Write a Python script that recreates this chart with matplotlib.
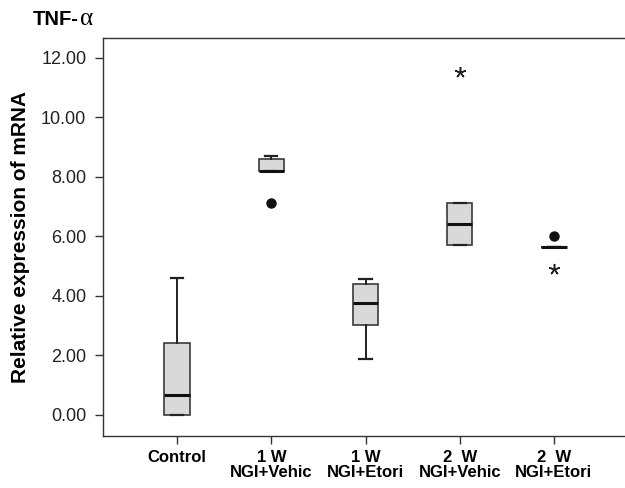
import numpy as np
import matplotlib.pyplot as plt

plt.rcParams['font.family'] = ['Liberation Sans', 'DejaVu Sans']

# -----------------------------
# DATA
# -----------------------------
groups = ["Control", "1 W\nNGI+Vehic", "1 W\nNGI+Etori", "2  W\nNGI+Vehic", "2  W\nNGI+Etori"]
whisker_low = [0.00, 8.20, 1.89, 5.70, 5.65]
q1 = [0.00, 8.20, 3.03, 5.70, 5.65]
median = [0.68, 8.20, 3.77, 6.42, 5.65]
q3 = [2.42, 8.60, 4.41, 7.12, 5.65]
whisker_high = [4.60, 8.70, 4.58, 7.12, 5.65]
outliers_circle = [[], [7.12], [], [], [6.00]]   # mild outliers (o)
outliers_star = [[], [], [], [11.52], [4.90]]    # extreme outliers (*)

yticks = [0, 2, 4, 6, 8, 10, 12]


def main():
    fig = plt.figure(figsize=(6.25, 4.88), dpi=100)
    ax = fig.add_axes([0.1648, 0.1066, 0.8352, 0.8156])

    stats = []
    for i, name in enumerate(groups):
        stats.append(dict(label=name, whislo=whisker_low[i], q1=q1[i],
                          med=median[i], q3=q3[i], whishi=whisker_high[i],
                          fliers=[]))

    pos = np.arange(1, len(groups) + 1)
    ax.bxp(stats, positions=pos, widths=0.27, capwidths=0.13,
           patch_artist=True, showfliers=False,
           boxprops=dict(facecolor="#d9d9d9", edgecolor="#3a3a3a", linewidth=1.2),
           medianprops=dict(color="#111111", linewidth=2.2),
           whiskerprops=dict(color="#222222", linewidth=1.4),
           capprops=dict(color="#222222", linewidth=1.6))

    # outliers: filled circles and 5-arm asterisks
    for i in range(len(groups)):
        if outliers_circle[i]:
            ax.plot([pos[i]] * len(outliers_circle[i]), outliers_circle[i],
                    "o", color="#111111", markersize=6.5, zorder=5)
        if outliers_star[i]:
            ax.plot([pos[i]] * len(outliers_star[i]), outliers_star[i],
                    marker=(5, 2, 0), linestyle="none", color="#222222",
                    markersize=8, markeredgewidth=1.1, zorder=5)

    ax.set_xlim(0.213, 5.755)
    ax.set_ylim(-0.707, 12.67)
    ax.set_yticks(yticks)
    ax.set_yticklabels([f"{v:.2f}" for v in yticks], fontsize=13, color="#222222")
    ax.set_xticks(pos)
    ax.set_xticklabels(groups, fontsize=12, fontweight="bold", linespacing=1.05)

    ax.spines["right"].set_visible(False)
    for s in ["left", "top", "bottom"]:
        ax.spines[s].set_color("#333333")
        ax.spines[s].set_linewidth(1.0)
    ax.tick_params(axis="both", direction="out", length=6, width=1, color="#333333")
    ax.tick_params(axis="x", pad=4)
    ax.tick_params(axis="y", pad=6)

    ax.set_ylabel("Relative expression of mRNA", fontsize=15, fontweight="bold",
                  labelpad=8)

    # title
    fig.text(33 / 625, 1 - 25 / 488, "TNF-", fontsize=14.5, fontweight="bold",
             ha="left", va="baseline")
    fig.text(80 / 625, 1 - 25 / 488, "\u03b1", fontsize=18,
             family=["Liberation Serif", "DejaVu Serif"], ha="left", va="baseline")

    fig.savefig("out.png", dpi=100)


if __name__ == "__main__":
    main()
